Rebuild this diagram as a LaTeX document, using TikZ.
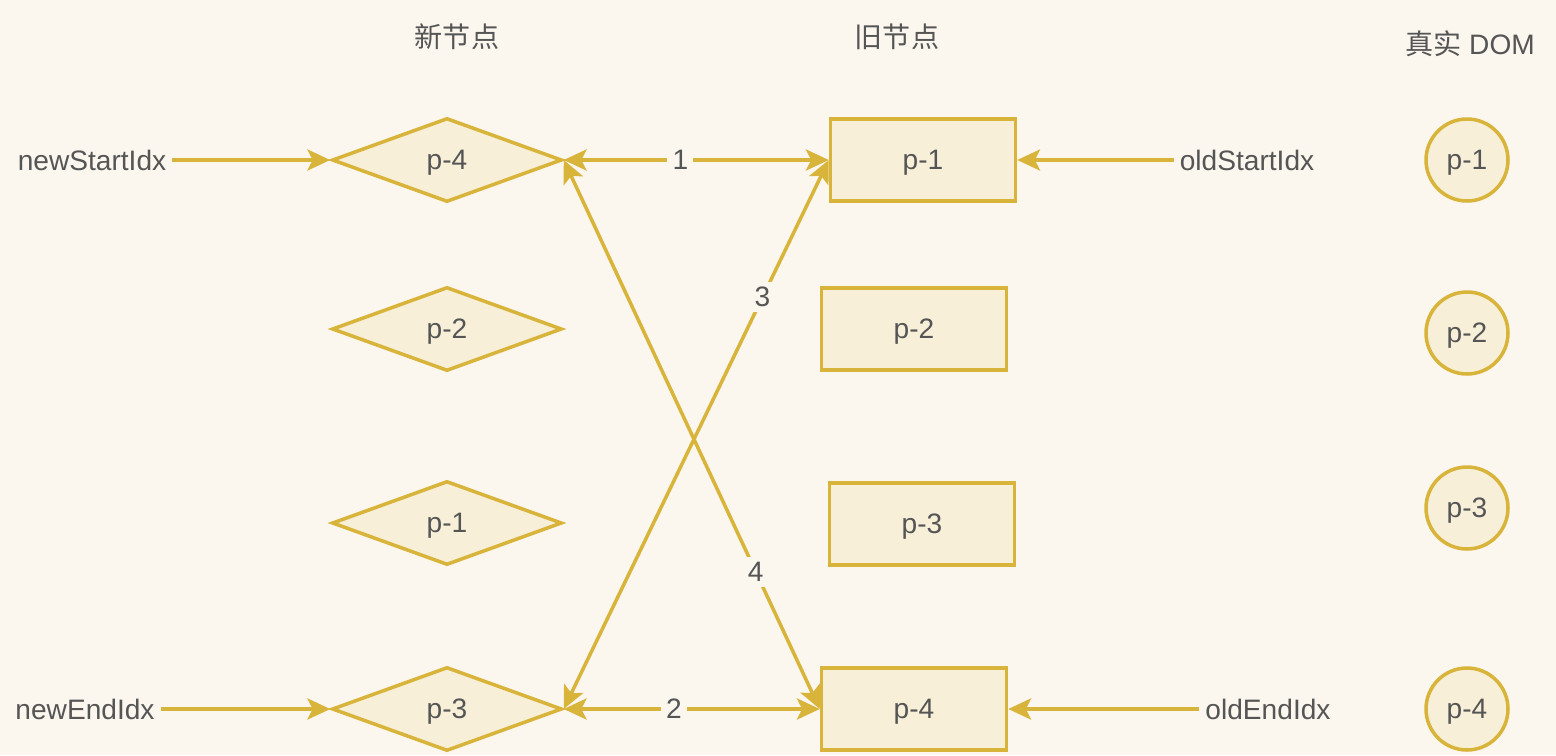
\documentclass[tikz,border=0pt]{standalone}
\usepackage{fontspec}
\setmainfont{Liberation Sans}
\newfontfamily\cjk{Noto Sans CJK SC}
\usetikzlibrary{shapes.geometric,arrows.meta}
\definecolor{fond}{HTML}{FBF7EF}
\definecolor{trait}{HTML}{D9B43A}
\definecolor{remplissage}{HTML}{F7EFD8}
\definecolor{texte}{HTML}{555555}

\begin{document}
\begin{tikzpicture}[x=0.02cm,y=-0.02cm,font=\fontsize{16}{19}\selectfont]
\tikzset{losange/.style={draw=trait, fill=remplissage, diamond, line width=2pt, minimum width=4.6cm, minimum height=1.68cm, inner sep=0pt, text depth=0pt, text=texte},
boite/.style={draw=trait, fill=remplissage, rectangle, line width=2pt, minimum width=3.7cm, minimum height=1.64cm, text depth=0pt, text=texte},
rond/.style={draw=trait, fill=remplissage, circle, line width=2pt, minimum size=1.64cm, inner sep=0pt, text depth=0pt, text=texte},
etiquette/.style={text=texte},
fleche/.style={draw=trait, line width=2pt, -{Stealth[length=13pt,width=12pt,inset=3pt]}},
double/.style={draw=trait, line width=2pt, {Stealth[length=13pt,width=12pt,inset=3pt]}-{Stealth[length=13pt,width=12pt,inset=3pt]}},
numero/.style={fill=fond, text=texte, inner sep=3pt}}
\fill[fond] (0,0) rectangle (1556,755);
\useasboundingbox (0,0) rectangle (1556,755);
\node[etiquette] (T1) at (457,37) {\cjk 新节点};
\node[etiquette] (T2) at (897,37) {\cjk 旧节点};
\node[etiquette] (T3) at (1470,44) {{\cjk 真实} DOM};
\node[losange] (N1) at (447,160) {p-4};
\node[losange] (N2) at (447,329) {p-2};
\node[losange] (N3) at (447,523) {p-1};
\node[losange] (N4) at (447,709) {p-3};
\node[boite] (O1) at (923,160) {p-1};
\node[boite] (O2) at (914,329) {p-2};
\node[boite] (O3) at (922,524) {p-3};
\node[boite] (O4) at (914,709) {p-4};
\node[rond] (D1) at (1467,160) {p-1};
\node[rond] (D2) at (1467,333) {p-2};
\node[rond] (D3) at (1467,508) {p-3};
\node[rond] (D4) at (1467,709) {p-4};
\node[etiquette] (NS) at (92,160) {newStartIdx};
\node[etiquette] (NE) at (85,709) {newEndIdx};
\node[etiquette] (OS) at (1247,160) {oldStartIdx};
\node[etiquette] (OE) at (1268,709) {oldEndIdx};
\draw[fleche] (NS) -- (N1);
\draw[fleche] (NE) -- (N4);
\draw[fleche] (OS) -- (O1);
\draw[fleche] (OE) -- (O4);
\draw[double] (N1.east) -- node[numero, pos=0.44] {1} (O1.west);
\draw[double] (N4.east) -- node[numero, pos=0.43] {2} (O4.west);
\draw[double] (N4.east) -- node[numero, pos=0.75] {3} (O1.west);
\draw[double] (N1.east) -- node[numero, pos=0.75] {4} (O4.west);
\end{tikzpicture}
\end{document}
